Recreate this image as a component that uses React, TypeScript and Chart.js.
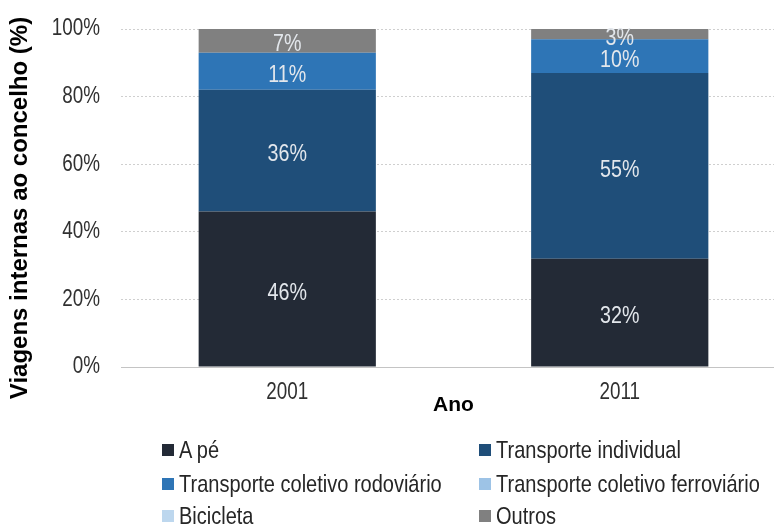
import React, { useEffect, useRef } from "react";
import { Chart, registerables } from "chart.js";

Chart.register(...registerables);

const categories = ["2001", "2011"];
const seriesNames = [
  "A pé",
  "Transporte individual",
  "Transporte coletivo rodoviário",
  "Transporte coletivo ferroviário",
  "Bicicleta",
  "Outros",
];
const aPe = [46, 32];
const transporteIndividual = [36, 55];
const coletivoRodoviario = [11, 10];
const coletivoFerroviario = [0, 0];
const bicicleta = [0, 0];
const outros = [7, 3];
const yTicks = [0, 20, 40, 60, 80, 100];

const colors = ["#232a36", "#1f4e79", "#2e75b6", "#9dc3e6", "#bdd7ee", "#808080"];
const seriesValues = [aPe, transporteIndividual, coletivoRodoviario, coletivoFerroviario, bicicleta, outros];

const FONT = "'Liberation Sans', Arial, sans-serif";
const NARROW = 0.82;

// Condense non-bold canvas text horizontally (Arial Narrow look) using fillText's maxWidth.
const narrowPlugin = {
  id: "narrowText",
  beforeDraw(chart: any) {
    const ctx = chart.ctx as any;
    if (ctx.__narrow) return;
    const orig = ctx.fillText.bind(ctx);
    ctx.fillText = (t: string, x: number, y: number, mw?: number) => {
      const bold = /bold|700/.test(ctx.font);
      const w = ctx.measureText(t).width * (bold ? 1 : NARROW);
      const m = typeof mw === "number" && isFinite(mw) ? Math.min(mw, w) : w;
      orig(t, x, y, Math.max(m, 0.01));
    };
    ctx.__narrow = true;
  },
};

const labelPlugin = {
  id: "segLabels",
  afterDatasetsDraw(chart: any) {
    const ctx = chart.ctx;
    ctx.save();
    ctx.font = `24px ${FONT}`;
    ctx.fillStyle = "#e3e7ec";
    ctx.textAlign = "center";
    ctx.textBaseline = "middle";
    chart.data.datasets.forEach((ds: any, i: number) => {
      const meta = chart.getDatasetMeta(i);
      meta.data.forEach((el: any, j: number) => {
        const v = ds.data[j];
        if (!v) return;
        const y = (el.y + el.base) / 2 + 4;
        ctx.fillText(`${v}%`, el.x, y);
      });
    });
    ctx.restore();
  },
};

export default function App() {
  const ref = useRef<HTMLCanvasElement>(null);
  useEffect(() => {
    if (!ref.current) return;
    const chart = new Chart(ref.current, {
      type: "bar",
      data: {
        labels: categories,
        datasets: seriesNames.map((name, i) => ({
          label: name,
          data: seriesValues[i],
          backgroundColor: colors[i],
          borderWidth: 0,
          barPercentage: 0.533,
          categoryPercentage: 1,
        })),
      },
      options: {
        responsive: false,
        animation: false,
        layout: { padding: { top: 29, bottom: 106, left: 0, right: 0 } },
        plugins: {
          legend: { display: false },
          tooltip: { enabled: false },
        },
        scales: {
          x: {
            stacked: true,
            grid: { display: false, drawTicks: false },
            border: { display: true, color: "#c4c4c4", width: 1 },
            ticks: { color: "#303030", font: { family: FONT, size: 23 }, padding: 12 },
            title: {
              display: true,
              text: "Ano",
              color: "#000",
              font: { family: FONT, size: 21, weight: "bold" },
              padding: 0,
            },
            afterFit: (s: any) => {
              s.height = 51;
            },
          },
          y: {
            stacked: true,
            min: 0,
            max: 100,
            afterBuildTicks: (s: any) => {
              s.ticks = yTicks.map((v) => ({ value: v }));
            },
            grid: { color: "#cfcfcf", drawTicks: true, tickLength: 21, tickColor: "rgba(0,0,0,0)" },
            border: { display: false, dash: [2, 2] },
            ticks: {
              color: "#303030",
              font: { family: FONT, size: 23 },
              padding: 0,
              callback: (v: any) => `${v}%`,
            },
            title: {
              display: true,
              text: "Viagens internas ao concelho (%)   ",
              color: "#000",
              font: { family: FONT, size: 24, weight: "bold" },
              padding: { top: 6, bottom: 0 },
            },
            afterFit: (s: any) => {
              s.width = 121;
            },
          },
        },
      },
      plugins: [narrowPlugin, labelPlugin],
    });
    return () => chart.destroy();
  }, []);

  const legendPos = [
    { x: 162, y: 450 },
    { x: 479, y: 450 },
    { x: 162, y: 484 },
    { x: 479, y: 484 },
    { x: 162, y: 516 },
    { x: 479, y: 516 },
  ];

  return (
    <div style={{ position: "fixed", left: 0, top: 0, width: 774, height: 524, overflow: "hidden", background: "#fff" }}>
      <canvas ref={ref} width={786} height={524} style={{ position: "absolute", left: 0, top: 0, width: 786, height: 524 }} />
      {seriesNames.map((name, i) => (
        <div
          key={name}
          style={{
            position: "absolute",
            left: legendPos[i].x,
            top: legendPos[i].y - 14,
            height: 28,
            display: "flex",
            alignItems: "center",
            fontFamily: FONT,
            fontSize: 24.4,
            color: "#262626",
            whiteSpace: "nowrap",
          }}
        >
          <span style={{ display: "inline-block", width: 12, height: 12, background: colors[i], marginRight: 5 }} />
          <span style={{ display: "inline-block", transform: `scaleX(${NARROW})`, transformOrigin: "left center" }}>{name}</span>
        </div>
      ))}
    </div>
  );
}
